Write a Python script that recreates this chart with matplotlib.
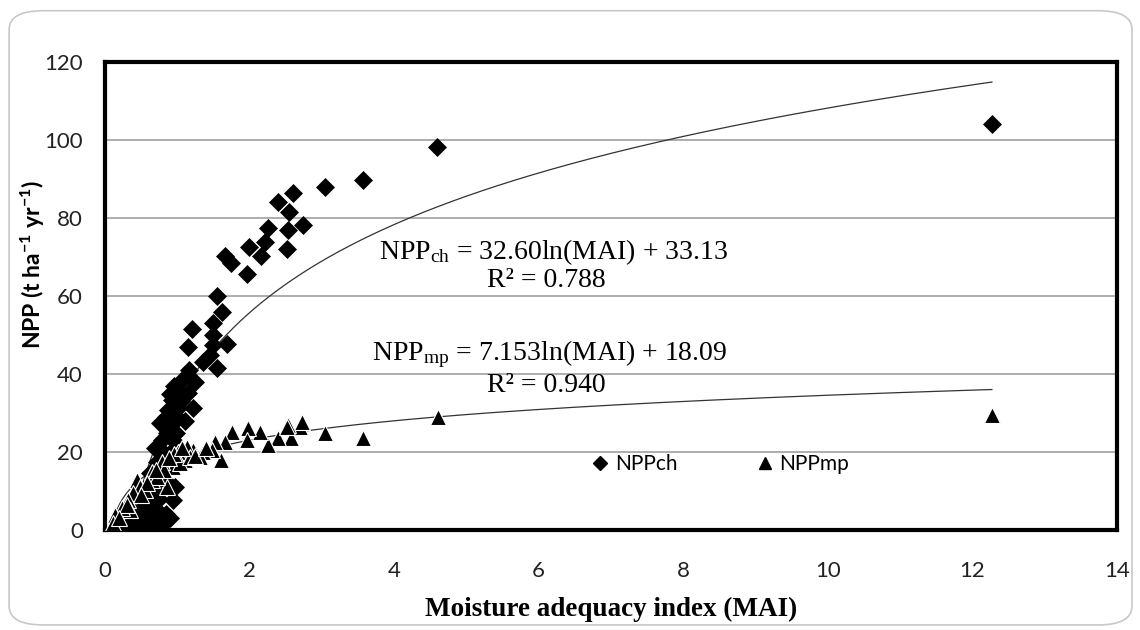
import numpy as np
import matplotlib.pyplot as plt
from matplotlib.patches import FancyBboxPatch
from matplotlib.lines import Line2D

plt.rcParams['mathtext.default'] = 'regular'

# NPP of Chir pine (diamonds)
x_ch = [12.27, 4.59, 3.57, 3.04, 2.60, 2.39, 2.54, 2.74, 2.25, 2.53, 2.21, 2.52,
        1.99, 2.16, 1.66, 1.74, 1.96, 1.55, 1.62, 1.49, 1.20, 1.15, 1.49, 1.49,
        1.69, 1.45, 1.36, 1.55, 1.16, 1.24, 1.06, 1.00, 1.15, 0.93, 1.01, 1.22,
        0.87, 0.76, 0.94, 0.86, 0.79, 0.94, 0.69, 0.90, 0.72, 0.87, 0.62, 0.83,
        0.97, 0.94, 0.72, 0.53, 0.58, 0.72, 0.39, 0.53, 0.66, 0.76, 0.14, 0.30,
        0.45, 0.50, 0.60, 0.65, 0.70, 0.80, 0.85, 0.55, 0.40, 0.62, 0.68, 0.75,
        0.50, 0.90, 0.35, 0.60, 0.70, 0.95, 1.05, 0.85, 1.00, 1.10, 0.98, 0.90,
        0.80, 0.45, 0.57]
y_ch = [104.0, 98.2, 89.7, 87.9, 86.4, 84.1, 81.5, 78.2, 77.4, 76.9, 73.8, 72.1,
        72.6, 70.3, 70.3, 68.5, 65.6, 60.0, 55.9, 53.1, 51.5, 47.0, 50.0, 47.4,
        47.7, 44.9, 43.1, 41.5, 41.0, 38.0, 38.5, 35.9, 35.1, 33.3, 31.3, 31.3,
        30.8, 27.4, 27.4, 24.9, 23.1, 23.1, 21.0, 19.7, 17.4, 16.2, 14.6, 12.8,
        11.0, 7.7, 9.5, 8.5, 4.4, 5.1, 2.6, 1.8, 1.3, 2.1, 0.0, 0.8,
        1.5, 3.5, 2.5, 6.0, 3.0, 1.5, 4.0, 6.5, 4.5, 9.0, 11.5, 8.0,
        0.8, 3.0, 1.2, 0.5, 1.0, 37.0, 33.0, 29.0, 29.0, 28.0, 25.0, 35.0,
        20.0, 0.3, 11.0]

# NPP of mixed plantation (triangles)
x_mp = [12.27, 4.61, 3.57, 3.04, 2.70, 2.72, 2.53, 2.58, 2.39, 2.25, 2.14, 1.98,
        1.96, 1.76, 1.66, 1.61, 2.52, 1.52, 1.48, 1.36, 1.22, 1.13, 1.11, 1.01,
        0.90, 0.94, 0.79, 0.65, 0.65, 0.86, 0.44, 0.48, 0.39, 0.32, 0.35, 0.24,
        0.14, 0.11, 0.55, 0.72, 1.04, 1.18, 1.31, 0.95, 1.07, 0.82, 0.58, 0.30,
        0.20, 0.50, 0.70, 1.25, 1.40, 0.88]
y_mp = [29.5, 29.0, 23.6, 24.8, 26.4, 27.7, 26.9, 23.6, 23.6, 21.8, 25.1, 26.2,
        23.1, 25.1, 22.6, 17.9, 26.4, 22.6, 20.5, 20.0, 20.5, 21.3, 17.9, 20.0,
        17.9, 16.2, 17.4, 14.9, 12.8, 11.0, 12.8, 11.0, 9.5, 7.7, 5.1, 5.6,
        3.8, 1.8, 10.3, 13.6, 17.2, 18.7, 18.7, 19.5, 21.0, 15.5, 12.0, 6.5,
        3.0, 9.0, 15.5, 19.0, 21.0, 18.5]

# logarithmic fits printed on the chart
a_ch, b_ch = 32.60, 33.13
a_mp, b_mp = 7.153, 18.09

fig = plt.figure(figsize=(11.4, 6.3), dpi=100)
fig.patches.append(FancyBboxPatch((0.008, 0.008), 0.985, 0.975, boxstyle='round,pad=0,rounding_size=0.03',
                                  transform=fig.transFigure, fc='white', ec='#c8c8c8', lw=1.2, zorder=-10))
ax = fig.add_axes([0.0921, 0.1587, 0.8877, 0.7429])

xs = np.linspace(0.1, max(x_ch), 400)
ax.plot(xs, a_ch * np.log(xs) + b_ch, color='#333333', lw=0.9, zorder=2)
xs = np.linspace(min(x_mp), max(x_mp), 400)
ax.plot(xs, a_mp * np.log(xs) + b_mp, color='#333333', lw=0.9, zorder=2)

ax.plot(x_ch, y_ch, ls='none', marker='D', ms=9.5, mfc='black', mec='black', mew=0.5, zorder=3)
ax.plot(x_mp, y_mp, ls='none', marker='^', ms=11, mfc='black', mec='white', mew=0.8, zorder=4)

ax.set_xlim(0, 14)
ax.set_ylim(0, 120)
ax.set_xticks(np.arange(0, 15, 2))
ax.set_yticks(np.arange(0, 121, 20))
ax.yaxis.grid(True, color='#a0a0a0', lw=1.2)
ax.set_axisbelow(True)
ax.tick_params(axis='x', length=0, labelsize=16, pad=22)
ax.tick_params(axis='y', length=0, labelsize=16, pad=16)
for lab in ax.get_xticklabels() + ax.get_yticklabels():
    lab.set_fontfamily('Lato')
    lab.set_color('#222222')
for s in ax.spines.values():
    s.set_linewidth(3)
    s.set_color('black')

ax.set_xlabel('Moisture adequacy index (MAI)', family='Liberation Serif', fontweight='bold', fontsize=19.5, labelpad=12)
fig.text(33 / 1140, 1 - 265 / 630, 'NPP (t ha$^{-1}$ yr$^{-1}$)', family='Lato', fontweight='bold', fontsize=16.5,
         rotation=90, ha='center', va='center')

serif = dict(family='Liberation Serif', fontsize=20, ha='center', va='center')
ax.text(6.2, 71.2, 'NPP$_{ch}$ = 32.60ln(MAI) + 33.13', **serif)
ax.text(6.1, 64.0, 'R² = 0.788', **serif)
ax.text(6.15, 45.0, 'NPP$_{mp}$ = 7.153ln(MAI) + 18.09', **serif)
ax.text(6.1, 37.0, 'R² = 0.940', **serif)

handles = [Line2D([], [], ls='none', marker='D', ms=7, color='black'),
           Line2D([], [], ls='none', marker='^', ms=8, color='black')]
fig.legend(handles, ['NPPch', 'NPPmp'], loc='center', bbox_to_anchor=(0.632, 0.263), ncol=2,
           frameon=False, prop={'family': 'Lato', 'size': 15}, handlelength=0.8, handletextpad=0.3,
           columnspacing=3.8)

fig.savefig('out.png', dpi=100)
